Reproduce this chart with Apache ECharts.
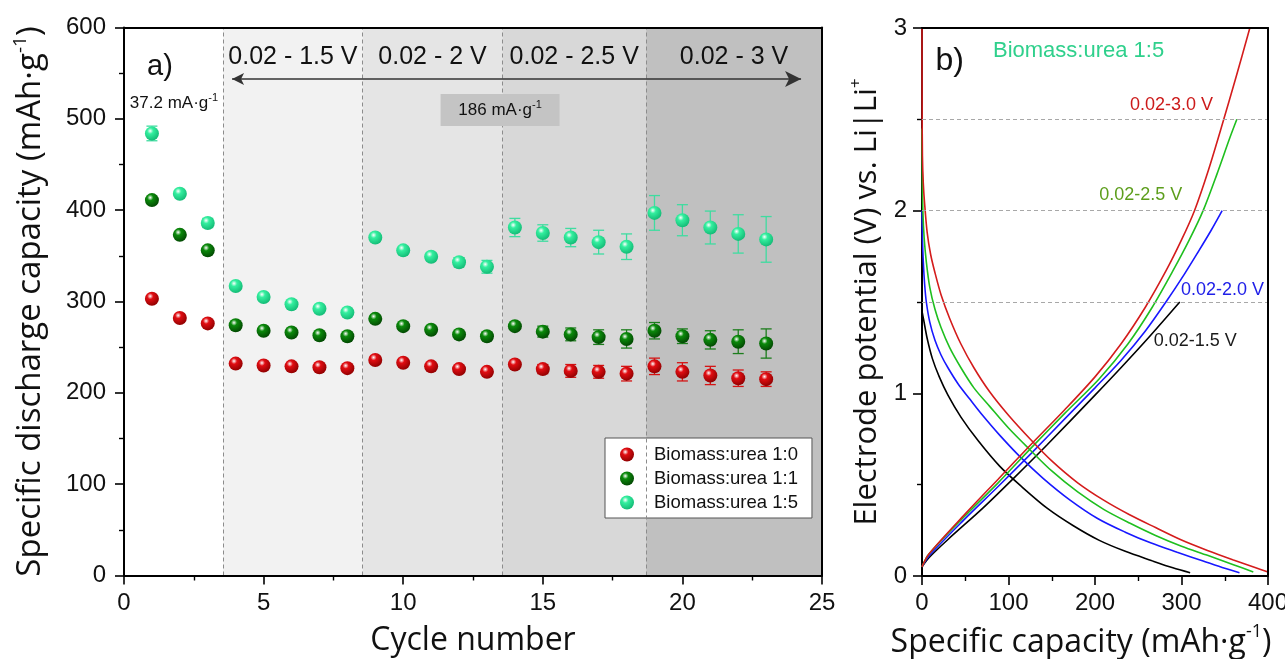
<!DOCTYPE html>
<html>
<head>
<meta charset="utf-8">
<script src="https://cdn.jsdelivr.net/npm/echarts@6/dist/echarts.min.js"></script>
<style>
  html, body { margin: 0; padding: 0; background: #ffffff; }
  #chart { width: 1285px; height: 659px; }
</style>
</head>
<body>
<div id="chart"></div>
<script>
// ---------- a) discharge capacity vs. cycle number ----------
const cycles = [1,2,3,4,5,6,7,8,9,10,11,12,13,14,15,16,17,18,19,20,21,22,23];

const capacity10 = [303,282,276,232,230,229,228,227,236,233,229,226,223,231,226,224,223,221,229,223,219,216,215];
const error10    = [3,2,2,3,3,3,3,3,3,3,3,3,3,3,5,7,7,8,9,10,10,9,8];

const capacity11 = [411,373,356,274,268,266,263,262,281,273,269,264,262,273,267,264,261,259,268,262,258,256,254];
const error11    = [2,2,2,3,3,3,3,3,3,3,3,3,4,3,6,7,8,10,9,8,10,13,16];

const capacity15 = [484,418,386,317,305,297,292,288,370,356,349,343,338,381,375,370,365,360,397,389,381,374,368];
const error15    = [8,3,5,3,3,3,3,3,4,4,4,5,7,10,9,10,13,14,19,17,18,21,25];

const seriesNames = ['Biomass:urea 1:0', 'Biomass:urea 1:1', 'Biomass:urea 1:5'];

// voltage windows (cycle boundaries) and their labels
const windowEdges  = [3.55, 8.55, 13.55, 18.7, 25];
const windowLabels = ['0.02 - 1.5 V', '0.02 - 2 V', '0.02 - 2.5 V', '0.02 - 3 V'];

// ---------- b) charge / discharge profiles, Biomass:urea 1:5 ----------
// [specific capacity (mAh/g), potential (V)]
const discharge15 = [[0,1.45],[2,1.40],[6,1.30],[12,1.19],[20,1.09],[30,0.99],[45,0.87],[65,0.74],[90,0.60],[115,0.49],[145,0.37],[175,0.275],[205,0.195],[235,0.135],[265,0.085],[290,0.045],[310,0.018]];
const charge15    = [[0,0.05],[8,0.10],[30,0.20],[70,0.37],[107,0.54],[145,0.72],[200,0.99],[230,1.14],[261,1.30],[298,1.5]];

const discharge20 = [[0,2.0],[0.5,1.85],[1.5,1.72],[3,1.6],[5,1.5],[9,1.39],[15,1.29],[22,1.21],[30,1.14],[42,1.05],[55,0.97],[70,0.88],[90,0.77],[115,0.645],[140,0.535],[170,0.42],[203,0.315],[235,0.24],[265,0.18],[295,0.13],[325,0.082],[350,0.042],[367,0.018]];
const charge20    = [[0,0.05],[8,0.11],[49,0.31],[88,0.49],[126,0.67],[165,0.86],[200,1.03],[230,1.18],[258,1.34],[282,1.5],[303,1.65],[320,1.78],[334,1.89],[347,2.0]];

const discharge25 = [[0,2.45],[0.3,2.2],[1,2.0],[2.5,1.85],[5,1.72],[9,1.58],[15,1.46],[22,1.36],[32,1.25],[45,1.14],[60,1.03],[78,0.93],[100,0.81],[125,0.69],[150,0.575],[180,0.46],[210,0.365],[240,0.29],[270,0.222],[300,0.163],[330,0.113],[360,0.062],[383,0.022]];
const charge25    = [[0,0.05],[8,0.12],[50,0.33],[88,0.51],[126,0.70],[165,0.89],[205,1.08],[238,1.27],[266,1.47],[290,1.67],[309,1.84],[325,2.0],[341,2.2],[356,2.4],[364,2.5]];

const discharge30 = [[0,3.0],[0.1,2.6],[0.5,2.3],[1.5,2.15],[3,2.04],[6,1.88],[10,1.76],[15,1.66],[22,1.54],[32,1.41],[45,1.27],[60,1.14],[78,1.01],[100,0.88],[125,0.75],[150,0.63],[180,0.51],[210,0.415],[240,0.335],[270,0.265],[300,0.197],[330,0.14],[360,0.088],[385,0.047],[400,0.022]];
const charge30    = [[0,0.05],[8,0.12],[50,0.34],[88,0.53],[126,0.72],[165,0.91],[200,1.09],[230,1.27],[258,1.47],[282,1.67],[300,1.84],[315,2.0],[331,2.22],[347,2.47],[363,2.73],[379,3.0]];

const cutoffLevels = [1.5, 2.0, 2.5];

// ---------- styling ----------
const FONT = '"Liberation Sans", Arial, sans-serif';
const TITLE_FONT = '"Open Sans", sans-serif';

function sphere(base, dark) {
  return {
    type: 'radial', x: 0.38, y: 0.32, r: 0.72,
    colorStops: [
      { offset: 0, color: '#ffffff' },
      { offset: 0.3, color: base },
      { offset: 1, color: dark }
    ]
  };
}

const palette = [
  { fill: sphere('#e10d12', '#8c0000'), bar: '#d41414' },
  { fill: sphere('#0b8a0b', '#024502'), bar: '#1d7d1d' },
  { fill: sphere('#34ef9f', '#12b874'), bar: '#3fdca0' }
];

function errorBars(color) {
  return function (params, api) {
    const x = api.value(0), v = api.value(1), e = api.value(2);
    const top = api.coord([x, v + e]);
    const bot = api.coord([x, v - e]);
    const hw = 5.5;
    const style = { stroke: color, lineWidth: 1.3 };
    return {
      type: 'group',
      children: [
        { type: 'line', shape: { x1: top[0], y1: top[1], x2: bot[0], y2: bot[1] }, style: style },
        { type: 'line', shape: { x1: top[0] - hw, y1: top[1], x2: top[0] + hw, y2: top[1] }, style: style },
        { type: 'line', shape: { x1: bot[0] - hw, y1: bot[1], x2: bot[0] + hw, y2: bot[1] }, style: style }
      ]
    };
  };
}

const capacities = [capacity10, capacity11, capacity15];
const errors = [error10, error11, error15];

const supRich = {
  n: { fontFamily: TITLE_FONT, fontSize: 32, lineHeight: 40, color: '#111' },
  s: { fontFamily: TITLE_FONT, fontSize: 18, lineHeight: 22, verticalAlign: 'top', color: '#111' }
};
const supRichLeft = {
  n: { fontFamily: TITLE_FONT, fontSize: 33, lineHeight: 40, color: '#111' },
  s: { fontFamily: TITLE_FONT, fontSize: 19, lineHeight: 22, verticalAlign: 'top', color: '#111' }
};
const supRichRight = {
  n: { fontFamily: TITLE_FONT, fontSize: 31, lineHeight: 38, color: '#111' },
  s: { fontFamily: TITLE_FONT, fontSize: 17, lineHeight: 20, verticalAlign: 'top', color: '#111' }
};
const smallSup = {
  n: { fontFamily: FONT, fontSize: 17, lineHeight: 22, color: '#111' },
  s: { fontFamily: FONT, fontSize: 11, lineHeight: 12, verticalAlign: 'top', color: '#111' }
};

function mainAxis(gridIndex, extra) {
  return Object.assign({
    gridIndex: gridIndex,
    axisLine: { show: true, onZero: false, lineStyle: { color: '#000', width: 2 } },
    axisTick: { show: true, inside: false, length: 9, lineStyle: { color: '#000', width: 1.6 } },
    minorTick: { show: true, splitNumber: 2, length: 5, lineStyle: { color: '#000', width: 1.4 } },
    splitLine: { show: false },
    minorSplitLine: { show: false },
    axisLabel: { color: '#111', fontFamily: FONT, fontSize: 24 },
    nameLocation: 'middle'
  }, extra);
}
function frameAxis(gridIndex, position, min, max) {
  return {
    gridIndex: gridIndex, position: position, min: min, max: max,
    axisLine: { show: true, onZero: false, lineStyle: { color: '#000', width: 2 } },
    axisTick: { show: false }, axisLabel: { show: false }, splitLine: { show: false },
    z: 10
  };
}

const shades = ['#f2f2f2', '#e5e5e5', '#d8d8d8', '#c0c0c0'];

const leftSeries = [
  {
    name: 'windows', type: 'line', xAxisIndex: 0, yAxisIndex: 0, data: [], z: 1,
    silent: true,
    markArea: {
      silent: true,
      data: windowLabels.map((lab, i) => [
        { xAxis: windowEdges[i], yAxis: 0, itemStyle: { color: shades[i] },
          label: { show: true, position: 'insideTop', distance: 17, formatter: lab,
                   fontFamily: FONT, fontSize: 25, color: '#111' } },
        { xAxis: windowEdges[i + 1], yAxis: 600 }
      ])
    },
    markLine: {
      silent: true, symbol: 'none', animation: false,
      label: { show: false },
      data: windowEdges.slice(0, 4).map(v => ({
        xAxis: v, lineStyle: { type: [4, 3], color: '#8c8c8c', width: 1 }
      })).concat([[
        { coord: [3.87, 543.6], symbol: 'arrow', symbolSize: [9, 12],
          lineStyle: { type: 'solid', color: '#333', width: 1.5 } },
        { coord: [24.25, 543.6], symbol: 'arrow', symbolSize: [12, 16] }
      ]])
    },
    markPoint: {
      silent: true, animation: false,
      data: [
        { coord: [13.47, 509.7], symbol: 'rect', symbolSize: [119, 32],
          itemStyle: { color: '#c4c4c4' },
          label: { show: true, position: 'inside', formatter: '{n|186 mA·g}{s|-1}', rich: smallSup } },
        { coord: [1.29, 556.8], symbol: 'circle', symbolSize: 1, itemStyle: { color: 'rgba(0,0,0,0)' },
          label: { show: true, position: 'inside', formatter: 'a)', fontFamily: FONT, fontSize: 29, color: '#111' } },
        { coord: [1.79, 517], symbol: 'circle', symbolSize: 1, itemStyle: { color: 'rgba(0,0,0,0)' },
          label: { show: true, position: 'inside', formatter: '{n|37.2 mA·g}{s|-1}', rich: smallSup } }
      ]
    }
  }
];

seriesNames.forEach((name, k) => {
  leftSeries.push({
    name: name + ' error', type: 'custom', xAxisIndex: 0, yAxisIndex: 0, z: 3, silent: true,
    renderItem: errorBars(palette[k].bar),
    encode: { x: 0, y: 1 },
    data: cycles.map((c, i) => [c, capacities[k][i], errors[k][i]])
  });
});
seriesNames.forEach((name, k) => {
  leftSeries.push({
    name: name, type: 'scatter', xAxisIndex: 0, yAxisIndex: 0, z: 4,
    symbol: 'circle', symbolSize: 14,
    itemStyle: { color: palette[k].fill, opacity: 1 },
    data: cycles.map((c, i) => [c, capacities[k][i]])
  });
});

const curveColors = { k: '#000000', b: '#1818ff', g: '#1fbf1f', r: '#d41c1c' };
function curve(data, color, extra) {
  return Object.assign({
    type: 'line', xAxisIndex: 2, yAxisIndex: 2, data: data, showSymbol: false, symbol: 'none',
    smooth: 0.3, lineStyle: { color: color, width: 1.6 }, itemStyle: { color: color }, z: 3,
    silent: true, animation: false
  }, extra || {});
}
function tag(coord, text, color, size) {
  return { coord: coord, symbol: 'circle', symbolSize: 1, itemStyle: { color: 'rgba(0,0,0,0)' },
           label: { show: true, position: 'inside', formatter: text, color: color,
                    fontFamily: FONT, fontSize: size } };
}

const rightSeries = [
  curve(discharge15, curveColors.k, {
    markLine: {
      silent: true, symbol: 'none', animation: false, label: { show: false },
      lineStyle: { type: [4, 3], color: '#a8a8a8', width: 1 },
      data: cutoffLevels.map(v => ({ yAxis: v }))
    },
    markPoint: { silent: true, animation: false, data: [
      tag([32, 2.82], 'b)', '#111', 32),
      tag([181, 2.874], 'Biomass:urea 1:5', '#2fd08c', 22)
    ] }
  }),
  curve(charge15, curveColors.k, { markPoint: { silent: true, animation: false, data: [
    tag([316, 1.287], '0.02-1.5 V', '#1a1a1a', 18) ] } }),
  curve(discharge20, curveColors.b),
  curve(charge20, curveColors.b, { markPoint: { silent: true, animation: false, data: [
    tag([347.4, 1.566], '0.02-2.0 V', '#2020e8', 18) ] } }),
  curve(discharge25, curveColors.g),
  curve(charge25, curveColors.g, { markPoint: { silent: true, animation: false, data: [
    tag([253, 2.084], '0.02-2.5 V', '#5c9e1c', 18) ] } }),
  curve(discharge30, curveColors.r),
  curve(charge30, curveColors.r, { markPoint: { silent: true, animation: false, data: [
    tag([288.5, 2.577], '0.02-3.0 V', '#cc1a1a', 18) ] } })
];

const option = {
  backgroundColor: '#ffffff',
  animation: false,
  grid: [
    { left: 124, top: 27.5, width: 698, height: 548, containLabel: false, outerBoundsMode: 'none' },
    { left: 922, top: 28, width: 346, height: 548, containLabel: false, outerBoundsMode: 'none' }
  ],
  legend: {
    data: seriesNames,
    orient: 'vertical', left: 605, top: 438,
    icon: 'circle', itemWidth: 14, itemHeight: 14, itemGap: 5,
    padding: [7, 14, 6, 15],
    backgroundColor: '#ffffff', borderColor: '#555555', borderWidth: 1, borderRadius: 0,
    formatter: name => '{sp| }' + name,
    textStyle: { fontFamily: FONT, fontSize: 18.5, color: '#111', rich: { sp: { width: 15, fontSize: 18 } } },
    selectedMode: false
  },
  xAxis: [
    mainAxis(0, { type: 'value', min: 0, max: 25, interval: 5, z: 10,
      axisLabel: { color: '#111', fontFamily: FONT, fontSize: 24, margin: 16 },
      name: 'Cycle number', nameGap: 49,
      nameTextStyle: { fontFamily: TITLE_FONT, fontSize: 32, color: '#111' } }),
    frameAxis(0, 'top', 0, 25),
    mainAxis(1, { type: 'value', min: 0, max: 400, interval: 100,
      axisLabel: { color: '#111', fontFamily: FONT, fontSize: 24, margin: 15 },
      name: '{n|Specific capacity (mAh·g}{s|-1}{n|)}', nameGap: 47,
      nameTextStyle: { rich: supRich, padding: [0, 28, 0, 0] } }),
    frameAxis(1, 'top', 0, 400)
  ],
  yAxis: [
    mainAxis(0, { type: 'value', min: 0, max: 600, interval: 100, z: 10,
      axisLabel: { color: '#111', fontFamily: FONT, fontSize: 24, margin: 18 },
      name: '{n|Specific discharge capacity (mAh·g}{s|-1}{n|)}', nameGap: 73,
      nameTextStyle: { rich: supRichLeft } }),
    frameAxis(0, 'right', 0, 600),
    mainAxis(1, { type: 'value', min: 0, max: 3, interval: 1,
      axisLabel: { color: '#111', fontFamily: FONT, fontSize: 24, margin: 15 },
      name: '{n|Electrode potential (V) vs. Li|Li}{s|+}', nameGap: 36,
      nameTextStyle: { rich: supRichRight } }),
    frameAxis(1, 'right', 0, 3)
  ],
  series: leftSeries.concat(rightSeries)
};

const chart = echarts.init(document.getElementById('chart'), null, { renderer: 'canvas' });
chart.setOption(option);
</script>
</body>
</html>
